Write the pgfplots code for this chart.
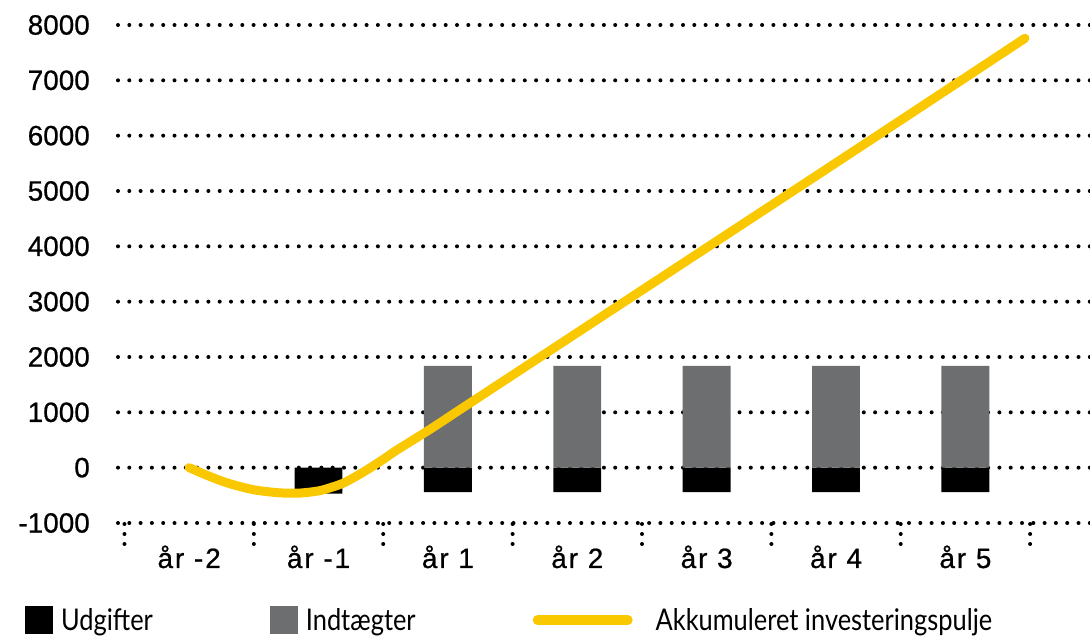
\documentclass[border=0pt]{standalone}
\usepackage{fontspec}
\usepackage{pgfplots}
\pgfplotsset{compat=1.18}
\newfontfamily\ticfont[FakeBold=0.7]{Liberation Sans}
\newfontfamily\xticfont[FakeBold=0.7, LetterSpace=7]{Liberation Sans}
\newfontfamily\legfont[FakeStretch=0.85]{Lato}
\newcommand\tickfont{\ticfont\fontsize{28}{30}\selectfont}
\newcommand\xtickfont{\xticfont\fontsize{28}{30}\selectfont}
\newcommand\legendfont{\legfont\fontsize{30}{32}\selectfont}
\definecolor{myyellow}{RGB}{250,200,0}
\definecolor{mygray}{RGB}{109,110,112}
\begin{document}
\begin{tikzpicture}[x=1bp,y=1bp]
\path[use as bounding box] (0,0) rectangle (1090,637);
\begin{axis}[
  at={(118bp,114bp)}, anchor=south west,
  scale only axis, width=972bp, height=498bp,
  xmin=-0.55, xmax=6.963, ymin=-1000, ymax=8000,
  axis line style={draw=none},
  ytick={-1000,0,...,8000},
  yticklabels={-1000,0,1000,2000,3000,4000,5000,6000,7000,8000},
  xtick={0,...,6},
  xticklabels={år -2,år -1,år 1,år 2,år 3,år 4,år 5},
  minor xtick={-0.5,0.5,...,6.5},
  tick align=outside,
  xtick pos=bottom, ytick pos=left,
  major tick length=0pt,
  minor tick length=21bp,
  ytick style={draw=none},
  major x tick style={draw=none},
  minor x tick style={black, line width=4bp, line cap=round, dash pattern=on 0pt off 10bp},
  ymajorgrids,
  major grid style={black, line width=4bp, line cap=round, dash pattern=on 0pt off 11.3bp},
  yticklabel style={font=\tickfont, anchor=east, inner sep=0pt, xshift=-28bp},
  xticklabel style={font=\xtickfont, anchor=base, inner sep=0pt, yshift=-45bp},
  legend style={at={(axis description cs:-0.0957,-0.195)}, anchor=west,
    draw=none, fill=none, inner sep=0pt, font=\legendfont,
    nodes={inner sep=0pt},
    /tikz/column 1/.style={column sep=8bp},
    /tikz/column 2/.style={column sep=117bp},
    /tikz/column 3/.style={column sep=8bp},
    /tikz/column 4/.style={column sep=117bp},
    /tikz/column 5/.style={column sep=23bp}},
  legend columns=3,
]
\addplot[ybar, bar width=0.37, bar shift=0pt, fill=black, draw=none,
  legend image code/.code={\fill[black] (0bp,-14bp) rectangle (28bp,14bp);}]
  coordinates {(1,-470) (2,-440) (3,-440) (4,-440) (5,-440) (6,-440)};
\addlegendentry{Udgifter}
\addplot[ybar, bar width=0.37, bar shift=0pt, fill=mygray, draw=none,
  legend image code/.code={\fill[mygray] (0bp,-14bp) rectangle (28bp,14bp);}]
  coordinates {(2,1840) (3,1840) (4,1840) (5,1840) (6,1840)};
\addlegendentry{Indtægter}
\addplot[myyellow, line width=9bp, line cap=round, smooth,
  legend image code/.code={\path[draw=none, fill=none] (0bp,-14bp) rectangle (100bp,14bp);
    \draw[myyellow, line width=10bp, line cap=round] (5bp,0) -- (95bp,0);}]
  coordinates {(0,0) (0.15,-150) (0.3,-280) (0.5,-400) (0.7,-455) (0.85,-460)
    (1.0,-420) (1.1,-355) (1.2,-270) (1.35,-75) (1.5,150) (1.6,310) (1.86,690)
    (2.12,1090) (3,2440) (4,3975) (5,5510) (6,7050) (6.46,7760)};
\addlegendentry{Akkumuleret investeringspulje}
\end{axis}
\end{tikzpicture}
\end{document}
